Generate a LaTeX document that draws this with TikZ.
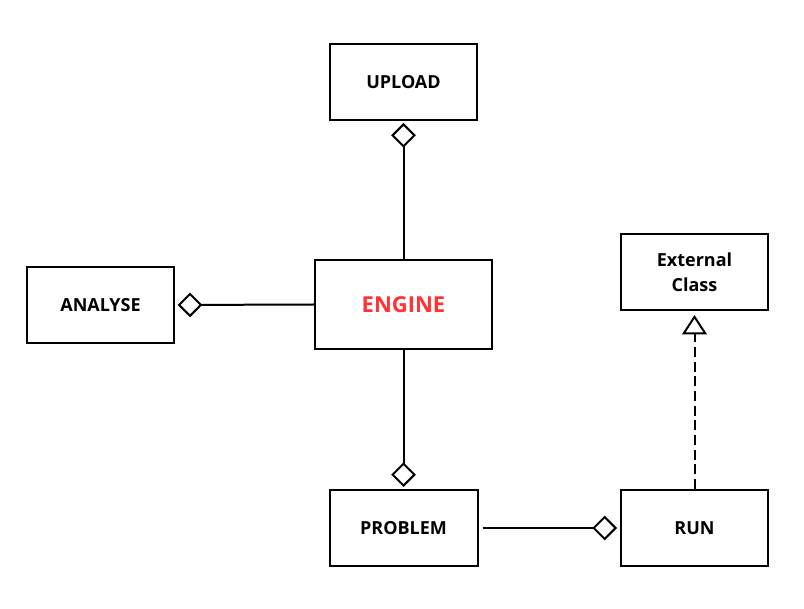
\documentclass[tikz,border=0pt]{standalone}
\usepackage{fontspec}
\setmainfont{Open Sans}
\usetikzlibrary{arrows.meta}
\definecolor{engred}{RGB}{255,51,51}
\tikzset{
  cls/.style={draw=black, line width=1.5pt, fill=white, minimum width=110.25pt, minimum height=57pt, align=center, font=\bfseries\fontsize{13.5}{19}\selectfont, inner sep=0pt},
  agg/.style={line width=1.5pt, -{Diamond[open, length=18.5pt, width=18.5pt, line width=1.5pt]}},
  real/.style={line width=1.5pt, dash pattern=on 7.5pt off 3.5pt, -{Triangle[open, length=14.5pt, width=18.5pt, line width=1.5pt]}},
  plain/.style={line width=1.5pt}
}
\begin{document}
\begin{tikzpicture}[x=0.75pt,y=-0.75pt]
\useasboundingbox (0,0) rectangle (804,609);
\node[cls] (upload) at (403.5,82) {UPLOAD};
\node[cls, minimum width=132.75pt, minimum height=66.75pt, text=engred, font=\bfseries\fontsize{16.5}{20}\selectfont] (engine) at (403.5,304.5) {ENGINE};
\node[cls] (analyse) at (100.5,305) {ANALYSE};
\node[cls, minimum width=111pt] (problem) at (403.5,528) {PROBLEM};
\node[cls] (run) at (694.5,528) {RUN};
\node[cls] (ext) at (694.5,272) {External\\Class};
\draw[agg, shorten >=1.5pt] (engine.north) -- (upload.south);
\draw[agg, shorten >=2pt] (engine.west) -- (analyse.east);
\draw[agg, shorten >=1.5pt] (engine.south) -- (problem.north);
\draw[agg, shorten <=3pt, shorten >=2.25pt] (problem.east) -- (run.west);
\draw[real, shorten >=3pt] (run.north) -- (ext.south);
\end{tikzpicture}
\end{document}
